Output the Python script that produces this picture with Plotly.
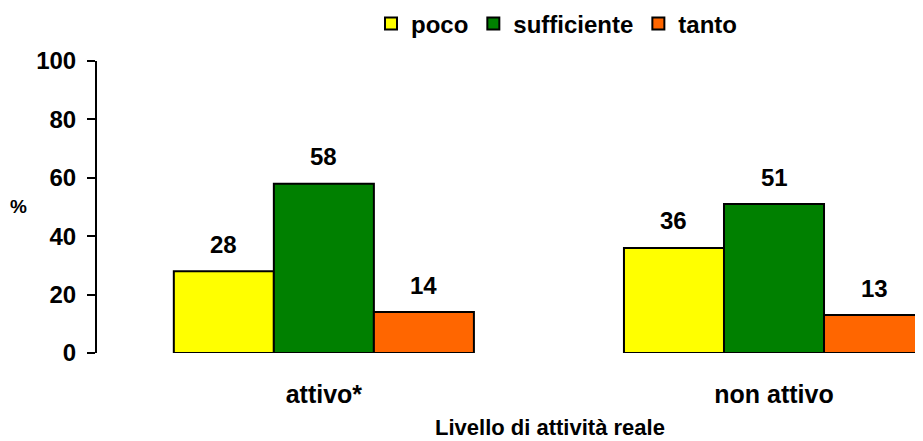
import plotly.graph_objects as go

categories = ["attivo*", "non attivo"]
series_names = ["poco", "sufficiente", "tanto"]
poco = [28, 36]
sufficiente = [58, 51]
tanto = [14, 13]
colors = ["#FFFF00", "#008000", "#FF6600"]
y_ticks = [0, 20, 40, 60, 80, 100]

values = [poco, sufficiente, tanto]
FONT = "Arial, Liberation Sans, sans-serif"

# the page shows the figure with an 8px body margin, so the figure is sized to the visible area
W, H = 915, 433
L, T, R, B = 89, 53, 0, 88
PW, PH = W - L - R, H - T - B

fig = go.Figure()
for name, vals, col in zip(series_names, values, colors):
    fig.add_trace(go.Bar(
        x=categories, y=vals, name=name,
        marker=dict(color=col, line=dict(color="black", width=2)),
    ))

# value labels above bars
offsets = [-2 / 9, 0.0, 2 / 9]
for vals, off in zip(values, offsets):
    for i, v in enumerate(vals):
        fig.add_annotation(x=i + off, y=v, xref="x", yref="y", text=str(v),
                           showarrow=False, yanchor="middle", yshift=27,
                           font=dict(size=24, color="black", family=FONT, weight="bold"))

fig.update_layout(
    width=W, height=H,
    margin=dict(l=L, r=R, t=T, b=B, autoexpand=False),
    paper_bgcolor="white", plot_bgcolor="white",
    barmode="group", bargap=1 / 3, bargroupgap=0,
    font=dict(family=FONT, color="black"),
    showlegend=True,
    legend=dict(orientation="h", x=0.6, y=1 - 16 / H, xref="container", yref="container",
                xanchor="center", yanchor="middle",
                font=dict(size=24, family=FONT, color="black", weight="bold"),
                itemwidth=30, tracegroupgap=0),
    xaxis=dict(
        range=[-0.504, 1.331], showline=False, showgrid=False, ticks="",
        automargin=False, ticklabelstandoff=24,
        tickfont=dict(size=25, family=FONT, color="black", weight="bold"),
    ),
    yaxis=dict(
        range=[0, 100], tickvals=y_ticks, showgrid=False, zeroline=False,
        automargin=False,
        showline=True, linecolor="black", linewidth=2,
        ticks="outside", ticklen=8, tickwidth=2, tickcolor="black",
        ticklabelstandoff=6,
        tickfont=dict(size=24, family=FONT, color="black", weight="bold"),
    ),
)
fig.add_annotation(text="%", xref="paper", yref="paper", x=(18.5 - 97) / PW, y=(353 - 206) / PH,
                   showarrow=False, xanchor="center", yanchor="middle",
                   font=dict(size=19, family=FONT, color="black", weight="bold"))
fig.add_annotation(text="Livello di attività reale", xref="paper", yref="paper",
                   x=(550 - 97) / PW, y=-(427 - 353) / PH,
                   showarrow=False, xanchor="center", yanchor="middle",
                   font=dict(size=22, family=FONT, color="black", weight="bold"))

fig.write_html("out.html")
